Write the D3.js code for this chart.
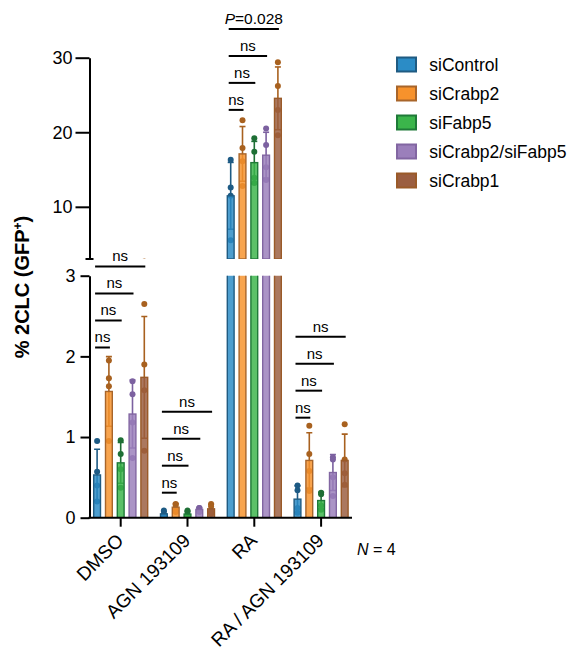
<!DOCTYPE html>
<html>
<head>
<meta charset="utf-8">
<script src="https://cdn.jsdelivr.net/npm/d3@7"></script>
<style>
  body { margin: 0; background: #fff; }
  svg { display: block; font-family: "Liberation Sans", Arial, Helvetica, sans-serif; }
</style>
</head>
<body>
<svg id="chart" width="572" height="653"></svg>
<script>
// Treatments along the x axis and siRNA conditions within each treatment
const groups = ["DMSO", "AGN 193109", "RA", "RA / AGN 193109"];
const seriesNames = ["siControl", "siCrabp2", "siFabp5", "siCrabp2/siFabp5", "siCrabp1"];

// % 2CLC (GFP+) replicates (N = 4), one row per treatment
const siControl = [[0.95, 0.57, 0.40, 0.20], [0.09, 0.05, 0.03, 0.02], [16.3, 12.6, 11.5, 5.5], [0.40, 0.34, 0.12, 0.06]];
const siCrabp2 = [[1.95, 1.73, 1.63, 0.95], [0.17, 0.16, 0.12, 0.07], [21.6, 17.9, 16.1, 12.8], [1.14, 0.79, 0.58, 0.33]];
const siFabp5 = [[0.96, 0.79, 0.60, 0.37], [0.09, 0.06, 0.02, 0.01], [19.2, 17.4, 13.9, 13.2], [0.31, 0.29, 0.15, 0.10]];
const siCrabp2siFabp5 = [[1.69, 1.53, 1.18, 0.74], [0.12, 0.12, 0.10, 0.07], [20.5, 18.3, 15.3, 13.6], [0.75, 0.72, 0.50, 0.27]];
const siCrabp1 = [[2.65, 1.90, 1.58, 0.83], [0.17, 0.14, 0.08, 0.05], [29.4, 26.2, 23.0, 19.6], [1.16, 0.72, 0.55, 0.41]];
const seriesValues = [siControl, siCrabp2, siFabp5, siCrabp2siFabp5, siCrabp1];

const fillColors = ["#2b8cc6", "#f7922c", "#3bb54b", "#9b7fbb", "#9b5e40"];
const edgeColors = ["#1f5b82", "#a8652a", "#1f7a38", "#8266a2", "#9a5a28"];
const dotColors = ["#1d5a84", "#a8611f", "#1e6f35", "#7c61a0", "#a8611f"];

// Broken y axis: lower segment 0–3, upper segment 3–30
const lowerTicks = [0, 1, 2, 3];
const upperTicks = [10, 20, 30];
const breakValue = 3;

// Pairwise comparisons against siControl, per treatment (siCrabp2, siFabp5, siCrabp2/siFabp5, siCrabp1)
const sigLabels = [
  ["ns", "ns", "ns", "ns"],
  ["ns", "ns", "ns", "ns"],
  ["ns", "ns", "ns", "P=0.028"],
  ["ns", "ns", "ns", "ns"]
];
const bracketBase = [2.11, 0.31, 23.0, 1.24];

const svg = d3.select("#chart");

const x0 = d3.scaleBand().domain(groups).range([87.3, 354.5]).padding(0);
const x1 = d3.scalePoint().domain(seriesNames).range([-23.6, 23.6]);
const barW = 6.8;
const yLow = d3.scaleLinear().domain([0, breakValue]).range([517.7, 275.7]);
const yUp = d3.scaleLinear().domain([breakValue, 30]).range([259, 57.7]);
const axisX = 89.5;

const defs = svg.append("defs");
defs.append("clipPath").attr("id", "clipLow").append("rect")
  .attr("x", 0).attr("y", yLow(breakValue)).attr("width", 572).attr("height", yLow(0) - yLow(breakValue));
defs.append("clipPath").attr("id", "clipUp").append("rect")
  .attr("x", 0).attr("y", 0).attr("width", 572).attr("height", yUp(breakValue));

// Flatten into one record per bar
const records = [];
groups.forEach((g, gi) => {
  seriesNames.forEach((s, si) => {
    const vals = seriesValues[si][gi];
    records.push({
      group: g, series: s, si, vals,
      mean: d3.mean(vals), sd: d3.deviation(vals),
      cx: x0(g) + x0.bandwidth() / 2 + x1(s)
    });
  });
});

function drawPanel(y, clipId) {
  const panel = svg.append("g").attr("clip-path", `url(#${clipId})`);
  const capW = 3;
  // error bars (mean ± SD)
  const eb = panel.append("g").selectAll("g").data(records).join("g")
    .attr("stroke", d => dotColors[d.si]).attr("stroke-width", 1.6).attr("fill", "none");
  eb.append("line")
    .attr("x1", d => d.cx).attr("x2", d => d.cx)
    .attr("y1", d => y(Math.max(0, d.mean - d.sd))).attr("y2", d => y(d.mean + d.sd));
  eb.append("line")
    .attr("x1", d => d.cx - capW).attr("x2", d => d.cx + capW)
    .attr("y1", d => y(d.mean + d.sd)).attr("y2", d => y(d.mean + d.sd));
  eb.append("line")
    .attr("x1", d => d.cx - capW).attr("x2", d => d.cx + capW)
    .attr("y1", d => y(Math.max(0, d.mean - d.sd))).attr("y2", d => y(Math.max(0, d.mean - d.sd)));
  // replicate points
  panel.append("g").selectAll("g").data(records).join("g")
    .attr("fill", d => dotColors[d.si])
    .selectAll("circle").data(d => d.vals.map(v => ({ v, cx: d.cx }))).join("circle")
    .attr("cx", d => d.cx).attr("cy", d => y(d.v)).attr("r", 3);
  // bars
  const base = y.domain()[0];
  panel.append("g").selectAll("rect").data(records).join("rect")
    .attr("x", d => d.cx - barW / 2)
    .attr("width", barW)
    .attr("y", d => y(d.mean))
    .attr("height", d => Math.max(0, y(base) - y(d.mean)))
    .attr("fill", d => fillColors[d.si])
    .attr("fill-opacity", 0.84)
    .attr("stroke", d => edgeColors[d.si])
    .attr("stroke-width", 1.4);
}
drawPanel(yLow, "clipLow");
drawPanel(yUp, "clipUp");

// Axes
const axisStyle = g => {
  g.selectAll("path, line").attr("stroke", "#000").attr("stroke-width", 2);
  g.selectAll("text").attr("fill", "#000").attr("font-size", "18px")
    .attr("font-family", '"Liberation Sans", Arial, Helvetica, sans-serif');
};
svg.append("g").attr("transform", `translate(${axisX},0)`)
  .call(d3.axisLeft(yLow).tickValues(lowerTicks).tickFormat(d3.format("d")).tickSize(9).tickPadding(5).tickSizeOuter(0))
  .call(axisStyle);
const upAxis = svg.append("g").attr("transform", `translate(${axisX},0)`)
  .call(d3.axisLeft(yUp).tickValues(upperTicks).tickFormat(d3.format("d")).tickSize(14).tickPadding(3).tickSizeOuter(0))
  .call(axisStyle);
// break marker at the bottom of the upper segment
upAxis.append("line").attr("x1", -4).attr("x2", 4)
  .attr("y1", yUp(breakValue)).attr("y2", yUp(breakValue))
  .attr("stroke", "#000").attr("stroke-width", 2);

const xAxis = svg.append("g").attr("transform", `translate(0,${yLow(0)})`);
xAxis.append("line").attr("x1", axisX - 1).attr("x2", 352).attr("stroke", "#000").attr("stroke-width", 2);
xAxis.selectAll("line.tick").data(groups).join("line").attr("class", "tick")
  .attr("x1", d => x0(d) + x0.bandwidth() / 2).attr("x2", d => x0(d) + x0.bandwidth() / 2)
  .attr("y1", 0).attr("y2", 9).attr("stroke", "#000").attr("stroke-width", 2);
svg.append("g").selectAll("text").data(groups).join("text")
  .attr("transform", d => `translate(${x0(d) + x0.bandwidth() / 2 + 4},${yLow(0) + 24}) rotate(-45)`)
  .attr("text-anchor", "end").attr("font-size", "19px").attr("fill", "#000")
  .text(d => d);

// Significance brackets
const bracketY = (gi, level) => {
  const b = bracketBase[gi];
  return (b > breakValue ? yUp(b) : yLow(b)) - level * 27;
};
groups.forEach((g, gi) => {
  const c0 = x0(g) + x0.bandwidth() / 2;
  const xa = c0 + x1(seriesNames[0]) - 2;
  sigLabels[gi].forEach((lab, li) => {
    const xb = c0 + x1(seriesNames[li + 1]) + 1;
    const yy = bracketY(gi, li);
    svg.append("line").attr("x1", xa).attr("x2", xb).attr("y1", yy).attr("y2", yy)
      .attr("stroke", "#000").attr("stroke-width", 2);
    const t = svg.append("text").attr("x", (xa + xb) / 2).attr("y", yy - 5)
      .attr("text-anchor", "middle").attr("font-size", "15px").attr("fill", "#000");
    if (lab.startsWith("P=")) {
      t.attr("font-size", "15.5px");
      t.append("tspan").attr("font-style", "italic").text("P");
      t.append("tspan").text(lab.slice(1));
    } else {
      t.text(lab);
    }
  });
});

// Y axis title
const yTitle = svg.append("text")
  .attr("transform", "translate(29,287) rotate(-90)")
  .attr("text-anchor", "middle").attr("font-size", "20px").attr("font-weight", "bold").attr("fill", "#000");
yTitle.append("tspan").text("% 2CLC (GFP");
yTitle.append("tspan").attr("font-size", "12px").attr("dy", "-7").text("+");
yTitle.append("tspan").attr("dy", "7").text(")");

// Sample size note
const nNote = svg.append("text").attr("x", 357).attr("y", 555).attr("font-size", "16px").attr("fill", "#000");
nNote.append("tspan").attr("font-style", "italic").text("N");
nNote.append("tspan").text(" = 4");

// Legend
const legend = svg.append("g").selectAll("g").data(seriesNames).join("g")
  .attr("transform", (d, i) => `translate(396,${65 + i * 29})`);
legend.append("rect").attr("x", 1).attr("y", -7.5).attr("width", 19).attr("height", 14)
  .attr("fill", (d, i) => fillColors[i]).attr("stroke", (d, i) => edgeColors[i]).attr("stroke-width", 2);
legend.append("text").attr("x", 33.3).attr("y", 0).attr("dy", "0.36em")
  .attr("font-size", "17.5px").attr("fill", "#000").text(d => d);
</script>
</body>
</html>
